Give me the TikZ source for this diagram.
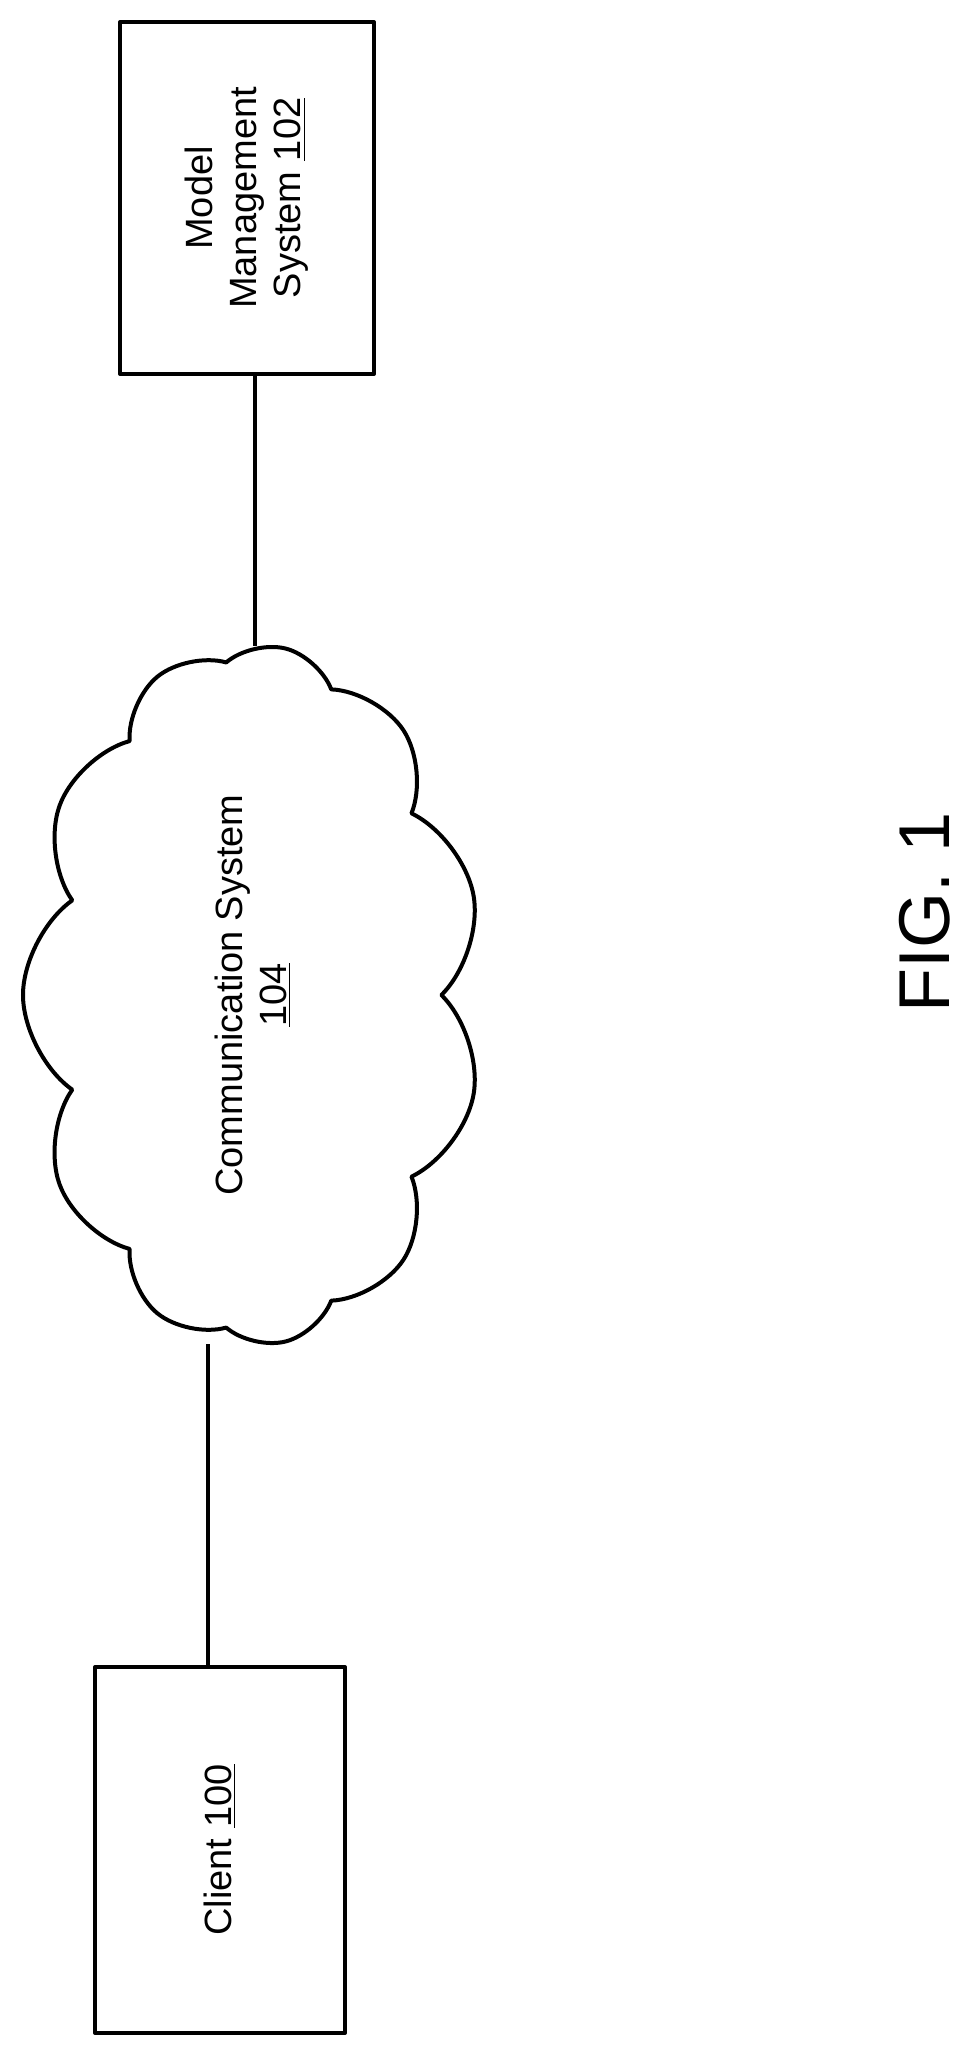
\documentclass[tikz,border=0pt]{standalone}
\usepackage{fontspec}
\setmainfont{Liberation Sans}
\usetikzlibrary{shapes.symbols}

\begin{document}
\begin{tikzpicture}[x=0.5pt,y=-0.5pt,line width=2pt,line join=round]
\tikzstyle{box} = [draw,rotate=90,align=center,font=\fontsize{19}{22}\selectfont,inner sep=0pt]
\useasboundingbox (0,0) rectangle (970,2054);
\node[box,minimum width=176pt,minimum height=127pt] (mms) at (247,198) {Model\\Management\\System \underline{102}};
\node[box,cloud,cloud puffs=11,cloud puff arc=110,aspect=1.5,minimum width=350pt,minimum height=230pt] (comm) at (253,995) {Communication System\\\underline{104}};
\node[box,minimum width=183pt,minimum height=125pt] (client) at (220,1850) {Client \underline{100}};
\coordinate (top) at (mms.west -| 255,0);
\coordinate (bot) at (client.east -| 208,0);
\draw (top) -- (comm.east -| top);
\draw (bot) -- (comm.west -| bot);
\node[rotate=90,font=\fontsize{36}{40}\selectfont] (fig) at (925,912) {FIG. 1};
\end{tikzpicture}
\end{document}
